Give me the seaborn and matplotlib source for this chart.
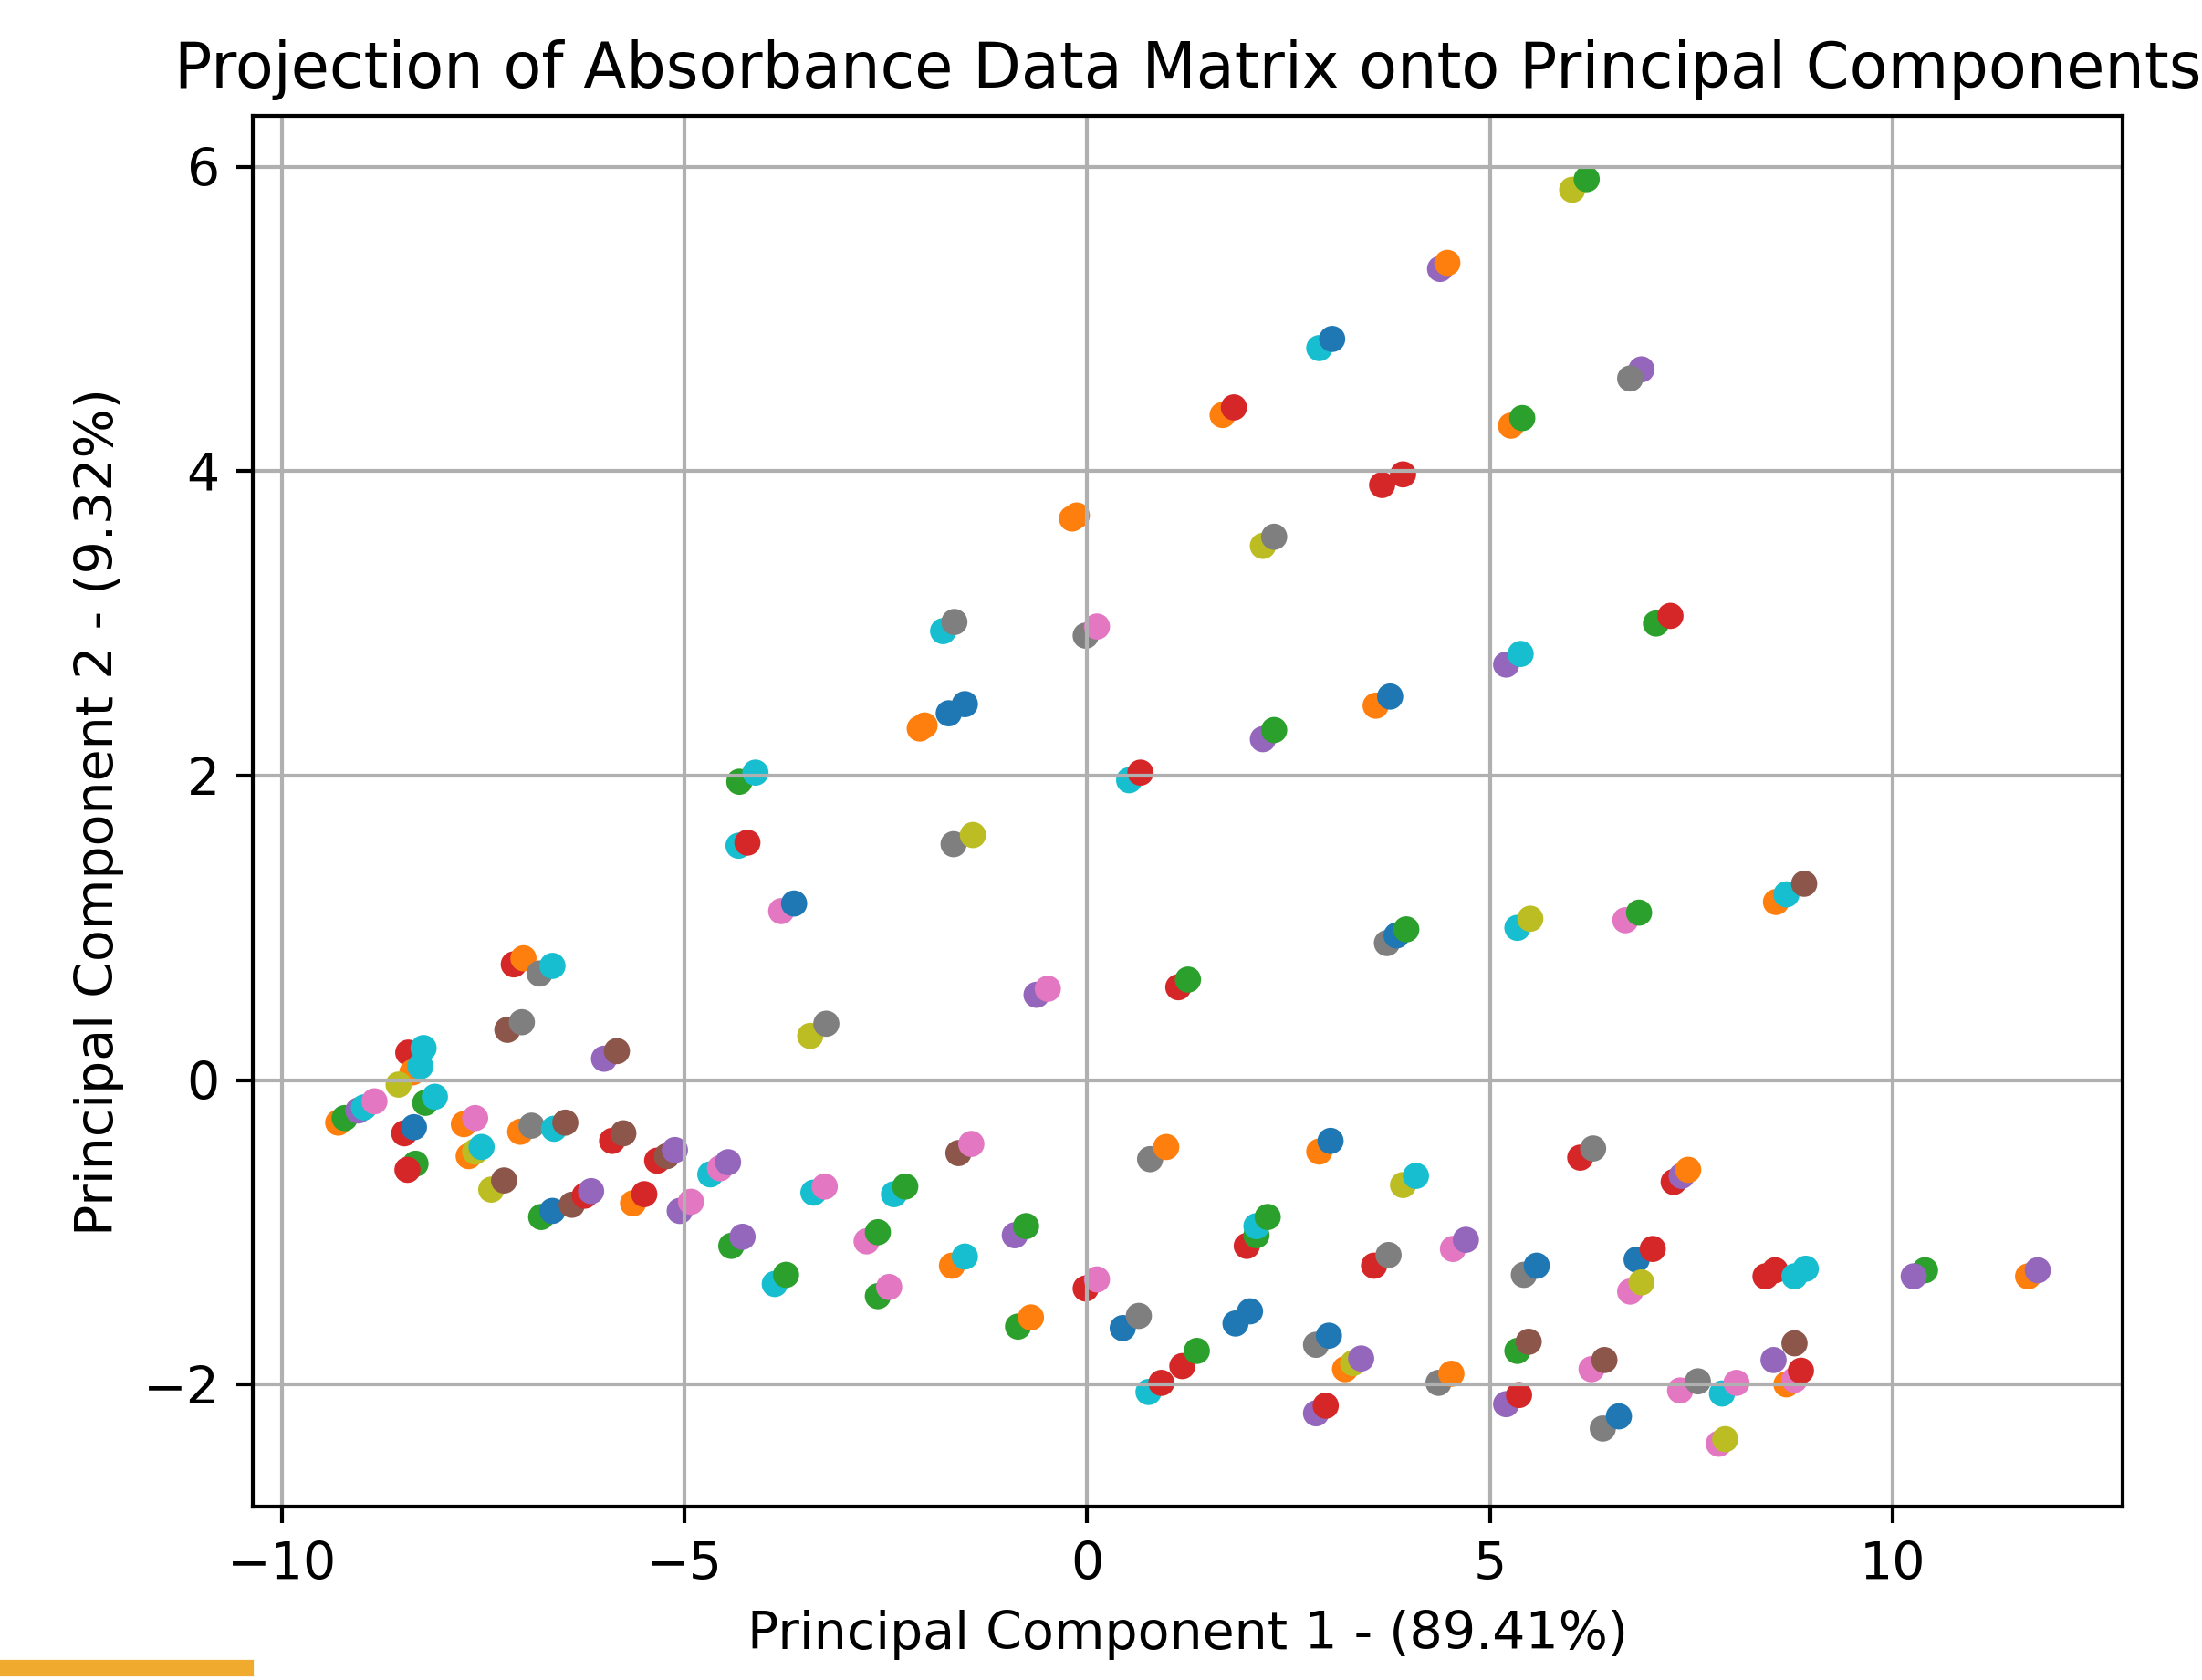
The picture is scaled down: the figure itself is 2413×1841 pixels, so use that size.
import pandas as pd
import matplotlib.pyplot as plt
from matplotlib.patches import Rectangle
import seaborn as sns

# PCA scores (each group = replicate spectra of one sample)
pc1 = [6.02, 6.20,
       4.38, 4.47,
       2.88, 3.04,
       6.88, 6.74,
       1.68, 1.82,
       5.26, 5.40,
       3.66, 3.92,
       -0.19, -0.13,
       2.18, 2.32,
       -1.79, -1.65,
       -0.02, 0.12,
       7.06, 7.24,
       -2.08, -2.02,
       -1.72, -1.52,
       3.58, 3.76,
       5.20, 5.38,
       2.18, 2.32,
       0.52, 0.66,
       -4.32, -4.12,
       -4.33, -4.22,
       -1.66, -1.42,
       -3.80, -3.64,
       8.55, 8.68, 8.90,
       5.34, 5.50,
       6.68, 6.85,
       3.72, 3.84, 3.96,
       -7.12, -7.00,
       -6.80, -6.64,
       -0.63, -0.49,
       1.13, 1.25,
       -3.44, -3.24,
       -7.20, -7.02,
       -6.00, -5.84,
       -8.43, -8.24,
       -8.38, -8.28,
       -8.55,
       -9.30, -9.22, -9.05, -8.98, -8.85,
       -8.48, -8.36,
       -8.22, -8.10,
       -8.34, -8.44,
       -7.74, -7.60,
       -7.68, -7.60, -7.52,
       -7.04, -6.90,
       -6.62, -6.48,
       -7.40, -7.24,
       -6.78, -6.64,
       -6.40, -6.24, -6.16,
       -5.90, -5.76,
       -5.34, -5.22, -5.12,
       -5.64, -5.50,
       -5.06, -4.92,
       -4.68, -4.56, -4.46,
       -4.42, -4.28,
       -3.88, -3.74,
       -3.40, -3.26,
       -2.74, -2.60,
       -2.60, -2.46,
       -2.40, -2.26,
       -1.68, -1.52,
       -1.60, -1.44,
       -0.90, -0.76,
       -0.86, -0.70,
       -0.02, 0.12,
       0.78, 0.98,
       0.44, 0.64,
       0.76, 0.92,
       1.18, 1.36,
       1.84, 2.02,
       1.98, 2.10,
       2.10, 2.24,
       2.88, 3.02,
       2.84, 3.00,
       2.84, 2.96,
       3.20, 3.30, 3.40,
       3.56, 3.74,
       3.92, 4.08,
       4.54, 4.70,
       4.36, 4.52,
       5.20, 5.36,
       5.42, 5.58,
       5.34, 5.48,
       6.12, 6.28,
       6.26, 6.42,
       6.40, 6.60,
       6.82, 7.02,
       6.74, 6.88,
       7.28, 7.38, 7.46,
       7.36, 7.58,
       7.84, 7.92,
       7.88, 8.06,
       8.52, 8.78,
       8.42, 8.54,
       8.78, 8.92,
       8.68, 8.78, 8.86,
       10.40, 10.26,
       11.68, 11.80]

pc2 = [5.85, 5.92,
       5.33, 5.37,
       4.81, 4.87,
       4.67, 4.61,
       4.37, 4.42,
       4.30, 4.35,
       3.91, 3.98,
       3.69, 3.71,
       3.51, 3.57,
       2.95, 3.01,
       2.92, 2.98,
       3.00, 3.05,
       2.31, 2.33,
       2.41, 2.47,
       2.46, 2.52,
       2.73, 2.80,
       2.24, 2.30,
       1.97, 2.02,
       1.96, 2.02,
       1.54, 1.56,
       1.55, 1.61,
       1.11, 1.16,
       1.17, 1.22, 1.29,
       1.00, 1.06,
       1.05, 1.10,
       0.90, 0.95, 0.99,
       0.76, 0.80,
       0.70, 0.75,
       0.56, 0.60,
       0.61, 0.66,
       0.29, 0.37,
       0.33, 0.38,
       0.14, 0.19,
       0.18, 0.21,
       0.05, 0.09,
       -0.03,
       -0.28, -0.25, -0.20, -0.18, -0.14,
       -0.35, -0.31,
       -0.15, -0.11,
       -0.55, -0.59,
       -0.29, -0.25,
       -0.50, -0.47, -0.44,
       -0.34, -0.30,
       -0.32, -0.28,
       -0.72, -0.66,
       -0.90, -0.86,
       -0.82, -0.76, -0.73,
       -0.40, -0.35,
       -0.53, -0.50, -0.46,
       -0.81, -0.75,
       -0.86, -0.80,
       -0.62, -0.58, -0.54,
       -1.09, -1.03,
       -1.34, -1.28,
       -0.74, -0.70,
       -1.06, -1.00,
       -1.42, -1.36,
       -0.75, -0.70,
       -1.22, -1.16,
       -0.48, -0.42,
       -1.02, -0.96,
       -1.62, -1.56,
       -1.37, -1.31,
       -0.52, -0.44,
       -1.63, -1.55,
       -2.05, -1.99,
       -1.88, -1.78,
       -1.60, -1.52,
       -1.09, -1.02,
       -0.96, -0.90,
       -0.47, -0.40,
       -1.74, -1.68,
       -2.19, -2.14,
       -1.90, -1.86, -1.83,
       -1.22, -1.15,
       -0.69, -0.63,
       -1.11, -1.05,
       -1.99, -1.93,
       -2.13, -2.07,
       -1.28, -1.22,
       -1.78, -1.72,
       -0.51, -0.45,
       -1.90, -1.84,
       -2.29, -2.21,
       -1.18, -1.11,
       -1.39, -1.33,
       -0.67, -0.63, -0.59,
       -2.04, -1.98,
       -2.39, -2.36,
       -2.06, -1.99,
       -1.84, -1.73,
       -1.29, -1.25,
       -1.29, -1.24,
       -2.00, -1.97, -1.91,
       -1.25, -1.29,
       -1.29, -1.25]

colour = ['olive', 'green',
          'purple', 'orange',
          'cyan', 'blue',
          'purple', 'gray',
          'orange', 'red',
          'orange', 'green',
          'red', 'red',
          'orange', 'orange',
          'olive', 'gray',
          'cyan', 'gray',
          'gray', 'pink',
          'green', 'red',
          'orange', 'orange',
          'blue', 'blue',
          'orange', 'blue',
          'purple', 'cyan',
          'purple', 'green',
          'cyan', 'red',
          'green', 'cyan',
          'cyan', 'red',
          'gray', 'olive',
          'pink', 'blue',
          'orange', 'cyan', 'brown',
          'cyan', 'olive',
          'pink', 'green',
          'gray', 'blue', 'green',
          'red', 'orange',
          'gray', 'cyan',
          'purple', 'pink',
          'red', 'green',
          'olive', 'gray',
          'brown', 'gray',
          'purple', 'brown',
          'red', 'cyan',
          'orange', 'cyan',
          'olive',
          'orange', 'green', 'purple', 'cyan', 'pink',
          'red', 'blue',
          'green', 'cyan',
          'green', 'red',
          'orange', 'pink',
          'orange', 'olive', 'cyan',
          'orange', 'gray',
          'cyan', 'brown',
          'olive', 'brown',
          'green', 'blue',
          'brown', 'red', 'purple',
          'red', 'brown',
          'red', 'brown', 'purple',
          'orange', 'red',
          'purple', 'pink',
          'cyan', 'pink', 'purple',
          'green', 'purple',
          'cyan', 'green',
          'cyan', 'pink',
          'pink', 'green',
          'green', 'pink',
          'cyan', 'green',
          'orange', 'cyan',
          'brown', 'pink',
          'purple', 'green',
          'green', 'orange',
          'red', 'pink',
          'gray', 'orange',
          'blue', 'gray',
          'cyan', 'red',
          'red', 'green',
          'blue', 'blue',
          'red', 'green',
          'cyan', 'green',
          'orange', 'blue',
          'gray', 'blue',
          'purple', 'red',
          'orange', 'olive', 'purple',
          'red', 'gray',
          'olive', 'cyan',
          'pink', 'purple',
          'gray', 'orange',
          'purple', 'red',
          'gray', 'blue',
          'green', 'brown',
          'red', 'gray',
          'pink', 'brown',
          'gray', 'blue',
          'blue', 'red',
          'pink', 'olive',
          'red', 'purple', 'orange',
          'pink', 'gray',
          'pink', 'olive',
          'cyan', 'pink',
          'purple', 'brown',
          'red', 'red',
          'cyan', 'cyan',
          'orange', 'pink', 'red',
          'green', 'purple',
          'orange', 'purple']

var_pc1 = 89.41
var_pc2 = 9.32

tab10 = {'blue': '#1f77b4', 'orange': '#ff7f0e', 'green': '#2ca02c', 'red': '#d62728',
         'purple': '#9467bd', 'brown': '#8c564b', 'pink': '#e377c2', 'gray': '#7f7f7f',
         'olive': '#bcbd22', 'cyan': '#17becf'}

df = pd.DataFrame({'pc1': pc1, 'pc2': pc2, 'colour': colour})

plt.rcParams['font.size'] = 10.9

fig, ax = plt.subplots(figsize=(2413 / 377, 1841 / 377), dpi=377)
fig.subplots_adjust(left=0.115, right=0.964, bottom=0.103, top=0.931)

sns.scatterplot(data=df, x='pc1', y='pc2', hue='colour', palette=tab10,
                s=30, linewidth=0, legend=False, ax=ax)

ax.set_title('Projection of Absorbance Data Matrix onto Principal Components', fontsize=13.1)
ax.set_xlabel(f'Principal Component 1 - ({var_pc1}%)')
ax.set_ylabel(f'Principal Component 2 - ({var_pc2}%)')
ax.set_xticks([-10, -5, 0, 5, 10])
ax.set_yticks([-2, 0, 2, 4, 6])
ax.grid(True)

# orange underline strip at the bottom-left of the screenshot
fig.patches.append(Rectangle((0, 0.004), 0.114, 0.007, transform=fig.transFigure,
                             color='#f0ab2e', zorder=5))

fig.savefig('out.png', dpi=377)
